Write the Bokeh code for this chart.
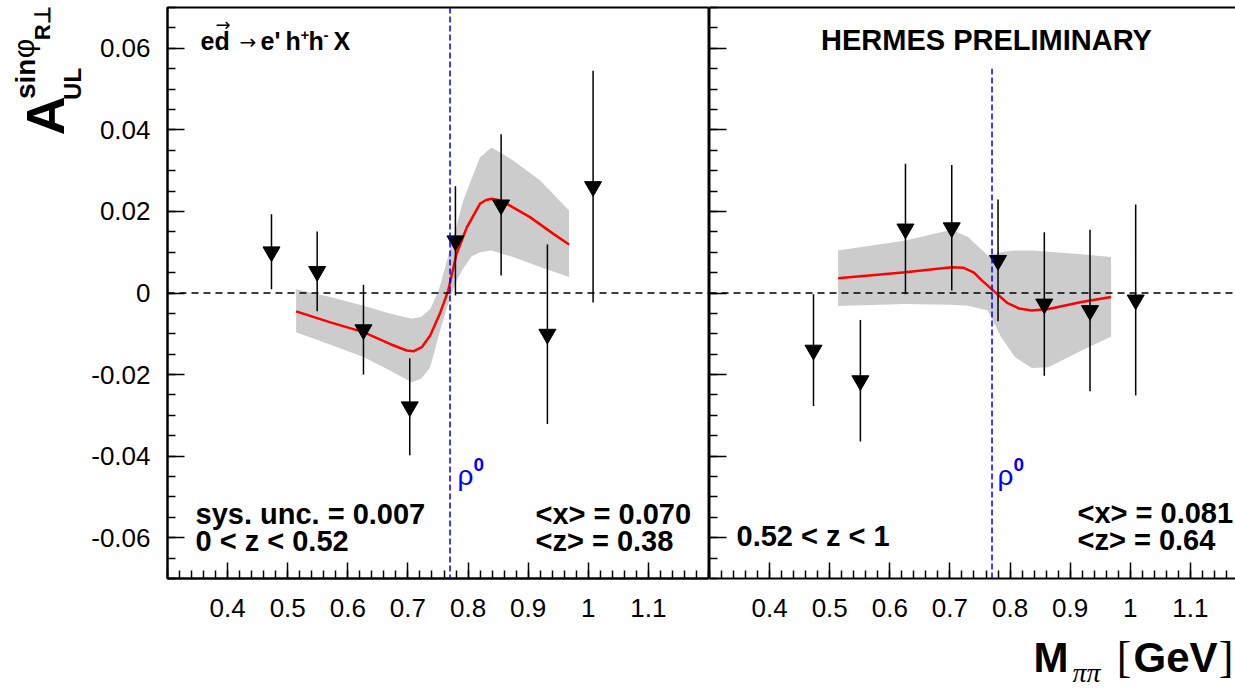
import numpy as np
from bokeh.plotting import figure
from bokeh.models import Label, Span, FixedTicker, LinearAxis
from bokeh.layouts import row, column
from bokeh.embed import file_html
from bokeh.resources import INLINE

# ---------------- data ----------------
RHO_MASS = 0.77

# left panel: 0 < z < 0.52
left_x = [0.473, 0.549, 0.626, 0.703, 0.779, 0.855, 0.932, 1.008]
left_y = [0.0101, 0.0053, -0.0090, -0.0279, 0.0128, 0.0216, -0.0101, 0.0261]
left_err = [0.0092, 0.0098, 0.0110, 0.0119, 0.0134, 0.0173, 0.0220, 0.0284]

left_curve_x = [0.514, 0.571, 0.626, 0.670, 0.698, 0.709, 0.723, 0.737, 0.753, 0.767,
                0.781, 0.798, 0.820, 0.830, 0.839, 0.850, 0.864, 0.903, 0.942, 0.968]
left_curve_y = [-0.0045, -0.0072, -0.0096, -0.0125, -0.0141, -0.0143, -0.0133, -0.0104,
                -0.0051, 0.0006, 0.0097, 0.0161, 0.0219, 0.0228, 0.0231, 0.0228, 0.0219,
                0.0186, 0.0145, 0.0119]

left_band_x = [0.514, 0.571, 0.626, 0.670, 0.706, 0.722, 0.737, 0.752, 0.765, 0.779,
               0.792, 0.806, 0.820, 0.839, 0.875, 0.920, 0.968]
left_band_hi = [0.0009, -0.0010, -0.0031, -0.0050, -0.0063, -0.0058, -0.0040, 0.0010,
                0.0080, 0.0155, 0.0227, 0.0280, 0.0333, 0.0357, 0.0325, 0.0276, 0.0202]
left_band_lo = [-0.0096, -0.0127, -0.0157, -0.0190, -0.0219, -0.0210, -0.0182, -0.0100,
                -0.0035, 0.0025, 0.0060, 0.0090, 0.0100, 0.0104, 0.0088, 0.0064, 0.0039]

# right panel: 0.52 < z < 1
right_x = [0.473, 0.551, 0.626, 0.703, 0.780, 0.857, 0.933, 1.009]
right_y = [-0.0140, -0.0215, 0.0157, 0.0160, 0.0080, -0.0027, -0.0043, -0.0017]
right_err = [0.0137, 0.0149, 0.0160, 0.0154, 0.0149, 0.0176, 0.0198, 0.0234]

right_curve_x = [0.514, 0.626, 0.703, 0.722, 0.740, 0.753, 0.775, 0.795, 0.815, 0.836,
                 0.864, 0.919, 0.968]
right_curve_y = [0.0036, 0.0051, 0.0063, 0.0062, 0.0050, 0.0031, 0.0002, -0.0024, -0.0038,
                 -0.0043, -0.0039, -0.0022, -0.0010]

right_band_x = [0.514, 0.626, 0.703, 0.730, 0.763, 0.785, 0.808, 0.836, 0.864, 0.919, 0.968]
right_band_hi = [0.0104, 0.0129, 0.0155, 0.0137, 0.0092, 0.0100, 0.0104, 0.0104, 0.0101, 0.0095, 0.0088]
right_band_lo = [-0.0032, -0.0027, -0.0029, -0.0031, -0.0043, -0.0108, -0.0157, -0.0184,
                 -0.0182, -0.0141, -0.0107]

x_ticks = [0.4, 0.5, 0.6, 0.7, 0.8, 0.9, 1.0, 1.1]
x_tick_labels = ["0.4", "0.5", "0.6", "0.7", "0.8", "0.9", "1", "1.1"]
y_ticks = [-0.06, -0.04, -0.02, 0.0, 0.02, 0.04, 0.06]
y_tick_labels = ["-0.06", "-0.04", "-0.02", "0", "0.02", "0.04", "0.06"]

# ---------------- layout constants (page pixels) ----------------
FONT = "Liberation Sans"
TOTAL_W, TOTAL_H = 1235, 689
YT_W = 88                 # y-title strip
FRAME_L = 167             # left frame edge
DIV = 708                 # divider
TOP = 7
FRAME_H = 571
ROW_H = 630
BOTTOM = ROW_H - TOP - FRAME_H
XT_H = TOTAL_H - ROW_H
XMIN, XMAX = 0.3, 1.2
YMIN, YMAX = -0.07, 0.07
LEFT_W = DIV + 1 - YT_W
RIGHT_W = TOTAL_W - (DIV + 1)
PX_PER_X = (DIV - FRAME_L) / (XMAX - XMIN)
RIGHT_XMAX = XMIN + RIGHT_W / PX_PER_X
PX_PER_Y = FRAME_H / (YMAX - YMIN)
BASE_SHIFT = 0.35         # label anchor sits this many em above the glyph baseline

x_minor = [round(v, 2) for v in np.arange(0.30, 1.2001, 0.02)]
y_minor = [round(v, 3) for v in np.arange(-0.07, 0.07001, 0.005)]


def ly(py):
    return YMAX - (py - TOP) / PX_PER_Y


def lx(px):
    return XMIN + (px - FRAME_L) / PX_PER_X


def rx(px):
    return XMIN + (px - (DIV + 1)) / PX_PER_X


def yt_x(px):
    return px


def yt_y(py):
    return ROW_H - py


def xt_x(px):
    return px


def xt_y(py):
    return TOTAL_H - py


def style_axes(p, show_labels):
    xa = p.xaxis[0]
    xa.ticker = FixedTicker(ticks=x_ticks, minor_ticks=x_minor)
    xa.major_label_overrides = dict(zip(x_ticks, x_tick_labels))
    xa.major_tick_in = 16
    xa.major_tick_out = 0
    xa.minor_tick_in = 8
    xa.minor_tick_out = 0
    xa.axis_line_width = 2
    xa.major_tick_line_width = 1.5
    xa.minor_tick_line_width = 1.5
    xa.major_label_text_font = FONT
    xa.major_label_text_font_size = "26px"
    xa.major_label_text_color = "black"
    xa.major_label_standoff = 20

    ya = p.yaxis[0]
    ya.ticker = FixedTicker(ticks=y_ticks, minor_ticks=y_minor)
    ya.major_tick_in = 17
    ya.major_tick_out = 0
    ya.minor_tick_in = 8
    ya.minor_tick_out = 0
    ya.axis_line_width = 2
    ya.major_tick_line_width = 1.5
    ya.minor_tick_line_width = 1.5
    if show_labels:
        ya.major_label_overrides = dict(zip(y_ticks, y_tick_labels))
        ya.major_label_text_font = FONT
        ya.major_label_text_font_size = "26px"
        ya.major_label_text_color = "black"
        ya.major_label_standoff = 17
    else:
        ya.major_label_overrides = {t: "" for t in y_ticks}
        ya.major_label_standoff = 0
    p.xgrid.visible = False
    p.ygrid.visible = False


def draw_panel(p, xs, ys, errs, cx, cy, bx, bhi, blo):
    p.varea(x=bx, y1=blo, y2=bhi, fill_color="#cccccc")
    p.line(cx, cy, line_color="#ff0000", line_width=2.5)
    lo = [y - e for y, e in zip(ys, errs)]
    hi = [y + e for y, e in zip(ys, errs)]
    p.segment(x0=xs, y0=lo, x1=xs, y1=hi, line_color="black", line_width=1.5)
    p.scatter(xs, ys, marker="inverted_triangle", size=17, fill_color="black", line_color="black")
    p.add_layout(Span(location=0, dimension="width", line_color="black",
                      line_width=1.5, line_dash="7 5"))


def lab(p, cx, cy, px, py, text, fs, bold=True, font=FONT, color="black", align="left",
        rotated=False, italic=False):
    """Place text so that its glyph baseline lands at page pixel (px, py)."""
    style = "bold" if bold else "normal"
    if italic:
        style = "bold italic" if bold else "italic"
    if rotated:
        ax, ay, ang = px - BASE_SHIFT * fs, py, 90
    else:
        ax, ay, ang = px, py - BASE_SHIFT * fs, 0
    p.add_layout(Label(x=cx(ax), y=cy(ay), text=text, text_font=font,
                       text_font_size=f"{fs}px", text_font_style=style, text_color=color,
                       text_align=align, text_baseline="alphabetic",
                       angle=ang, angle_units="deg"))


def blank_fig(w, h):
    f = figure(width=w, height=h, x_range=(0, w), y_range=(0, h),
               output_backend="svg", toolbar_location=None,
               x_axis_type=None, y_axis_type=None,
               min_border_left=0, min_border_right=0, min_border_top=0, min_border_bottom=0)
    f.outline_line_color = None
    f.xgrid.visible = False
    f.ygrid.visible = False
    f.background_fill_color = "white"
    f.border_fill_color = "white"
    return f


# ---------------- y-title strip ----------------
yt = blank_fig(YT_W, ROW_H)
lab(yt, yt_x, yt_y, 63, 141, "A", 54, rotated=True)
lab(yt, yt_x, yt_y, 80, 102, "UL", 24, rotated=True)
lab(yt, yt_x, yt_y, 35, 101, "sin", 28, rotated=True)
lab(yt, yt_x, yt_y, 33, 56, "\u03c6", 30, bold=False, rotated=True)
lab(yt, yt_x, yt_y, 50, 36, "R\u22a5", 22, rotated=True)

# ---------------- left figure ----------------
pl = figure(width=LEFT_W, height=ROW_H, x_range=(XMIN, XMAX), y_range=(YMIN, YMAX),
            output_backend="svg", toolbar_location=None,
            min_border_left=FRAME_L - YT_W, min_border_right=1,
            min_border_top=TOP, min_border_bottom=BOTTOM)
pl.outline_line_color = "black"
pl.outline_line_width = 2
pl.background_fill_color = "white"
pl.border_fill_color = "white"
style_axes(pl, True)
draw_panel(pl, left_x, left_y, left_err, left_curve_x, left_curve_y,
           left_band_x, left_band_hi, left_band_lo)
pl.add_layout(Span(location=RHO_MASS, dimension="height", line_color="#0000ff",
                   line_width=1.5, line_dash="6 3"))

lab(pl, lx, ly, 200, 49, "ed", 25)
lab(pl, lx, ly, 215, 30, "\u2192", 18, bold=False, font="DejaVu Sans")
lab(pl, lx, ly, 239, 48, "\u2192", 20, bold=False, font="DejaVu Sans")
lab(pl, lx, ly, 260, 49, "e'", 25)
lab(pl, lx, ly, 285, 49, "h", 25)
lab(pl, lx, ly, 300, 40, "+", 15)
lab(pl, lx, ly, 308, 49, "h", 25)
lab(pl, lx, ly, 323, 40, "-", 15)
lab(pl, lx, ly, 333, 49, "X", 25)

lab(pl, lx, ly, 195, 524, "sys. unc. = 0.007", 29)
lab(pl, lx, ly, 195, 551, "0 < z < 0.52", 29)
lab(pl, lx, ly, 535, 524, "<x> = 0.070", 29)
lab(pl, lx, ly, 535, 551, "<z> = 0.38", 29)

lab(pl, lx, ly, 457, 485, "\u03c1", 28, bold=False, color="#0000ff")
lab(pl, lx, ly, 473, 471, "0", 19, color="#0000ff")

# ---------------- right figure ----------------
pr = figure(width=RIGHT_W, height=ROW_H, x_range=(XMIN, RIGHT_XMAX), y_range=(YMIN, YMAX),
            output_backend="svg", toolbar_location=None,
            min_border_left=0, min_border_right=0,
            min_border_top=TOP, min_border_bottom=BOTTOM)
pr.outline_line_color = None
pr.background_fill_color = "white"
pr.border_fill_color = "white"
style_axes(pr, False)
top_axis = LinearAxis(ticker=FixedTicker(ticks=[]), axis_line_width=2,
                      major_tick_out=0, major_tick_in=0, minor_tick_out=0, minor_tick_in=0,
                      major_label_standoff=0)
pr.add_layout(top_axis, "above")
draw_panel(pr, right_x, right_y, right_err, right_curve_x, right_curve_y,
           right_band_x, right_band_hi, right_band_lo)
pr.segment(x0=[RHO_MASS], y0=[YMIN], x1=[RHO_MASS], y1=[0.055],
           line_color="#0000ff", line_width=1.5, line_dash="6 3")

lab(pr, rx, ly, 986, 50, "HERMES PRELIMINARY", 29, align="center")
lab(pr, rx, ly, 736, 546, "0.52 < z < 1", 29)
lab(pr, rx, ly, 1077, 523, "<x> = 0.081", 29)
lab(pr, rx, ly, 1077, 550, "<z> = 0.64", 29)
lab(pr, rx, ly, 997, 485, "\u03c1", 28, bold=False, color="#0000ff")
lab(pr, rx, ly, 1013, 471, "0", 19, color="#0000ff")

# ---------------- x-title strip ----------------
xt = blank_fig(TOTAL_W, XT_H)
lab(xt, xt_x, xt_y, 1033, 672, "M", 42)
lab(xt, xt_x, xt_y, 1072, 682, "\u03c0\u03c0", 28, bold=False, italic=True, font="Liberation Serif")
lab(xt, xt_x, xt_y, 1131, 672, "[", 44, bold=False, font="Liberation Serif", align="right")
lab(xt, xt_x, xt_y, 1217, 672, "GeV", 42, align="right")
lab(xt, xt_x, xt_y, 1233, 672, "]", 44, bold=False, font="Liberation Serif", align="right")

layout = column(row(yt, pl, pr), xt)
open("out.html", "w").write(file_html(layout, INLINE))
